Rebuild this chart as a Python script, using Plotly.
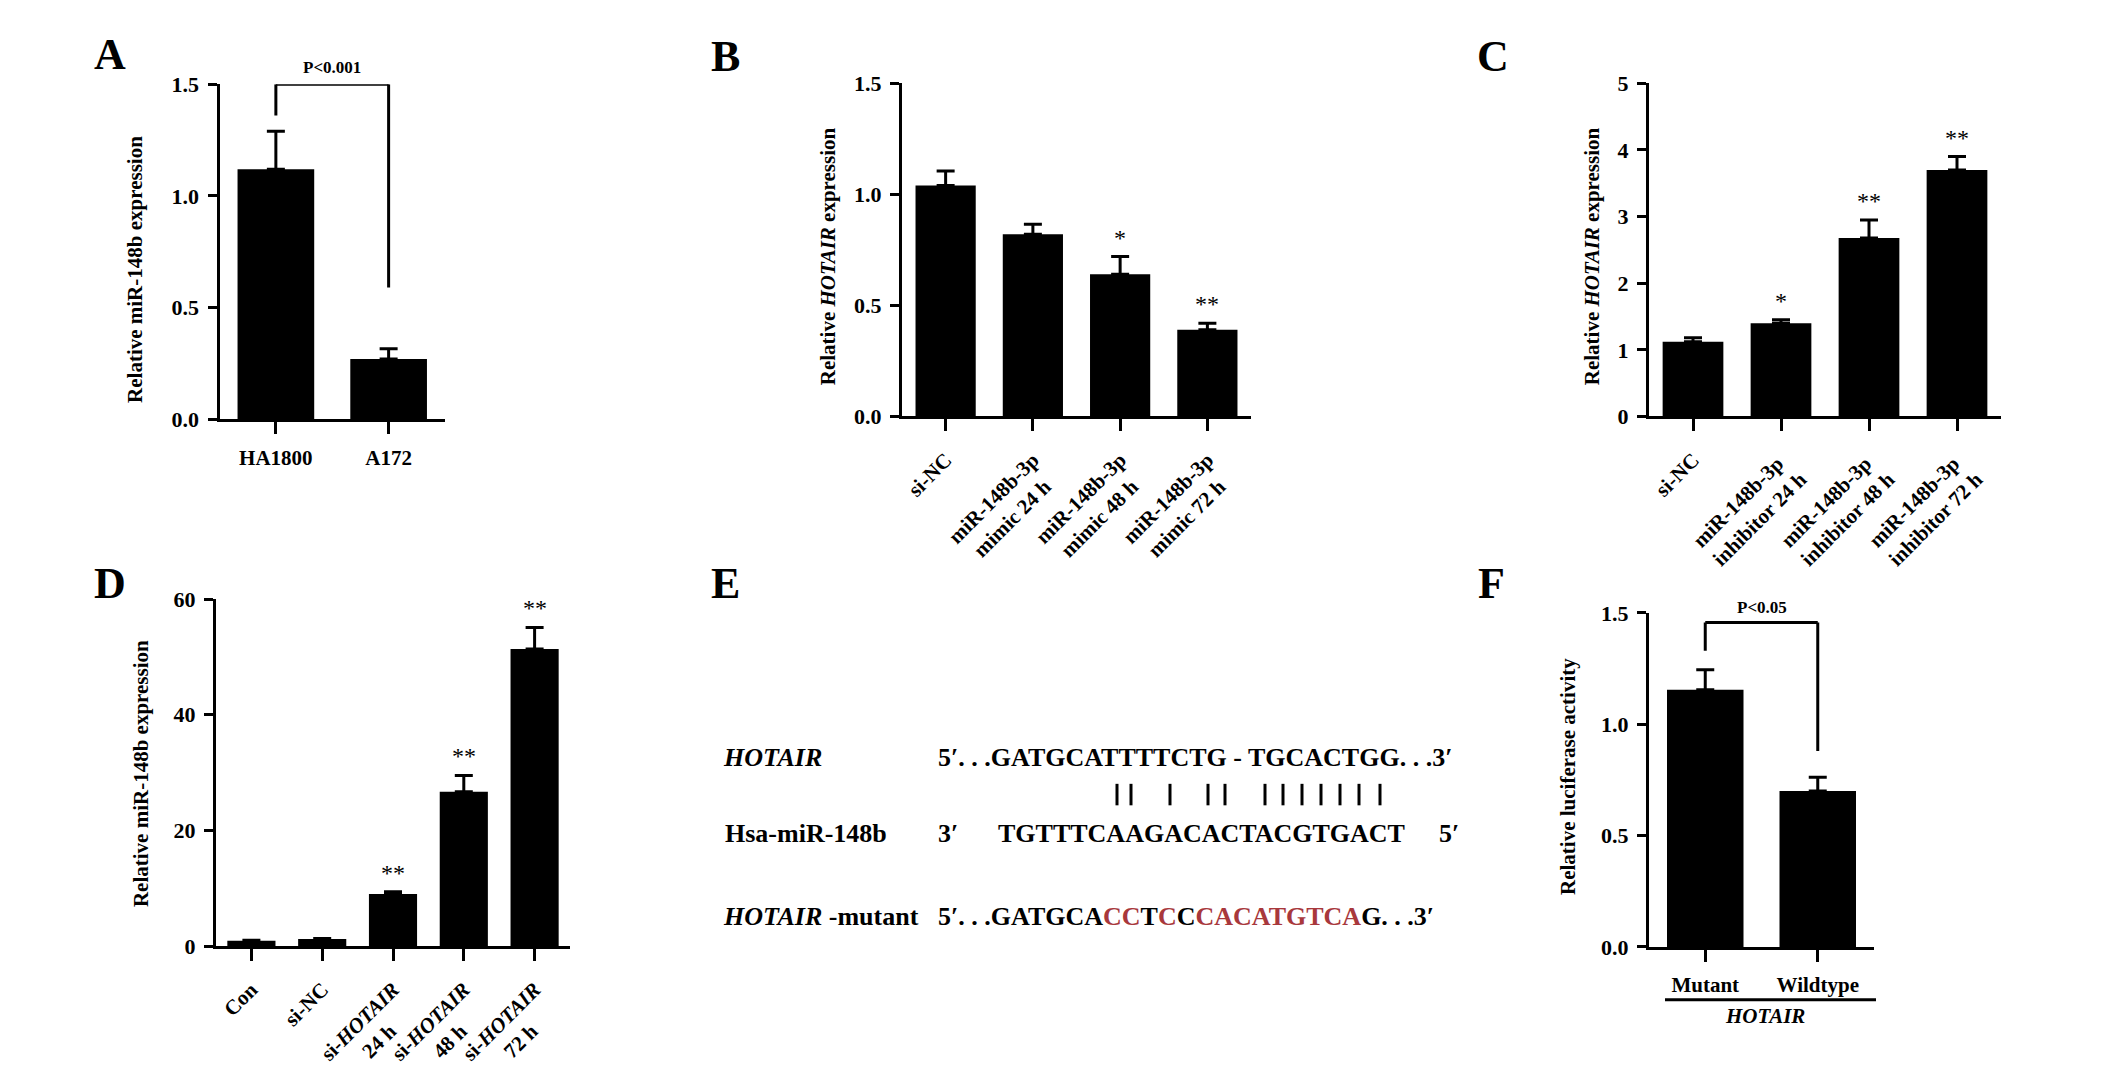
import plotly.graph_objects as go

W, H = 2126, 1087
FONT = "Liberation Serif"
NB = "\u00a0"

# ---------------- data ----------------
# Panel A
a_cats = ["HA1800", "A172"]
a_vals = [1.12, 0.27]
a_errs = [0.17, 0.046]
a_p = "P<0.001"
a_bracket = [1.36, 1.5, 0.59]   # left leg bottom, bracket top, right leg bottom

# Panel B
b_cats = ["si-NC", "miR-148b-3p<br>mimic 24 h", "miR-148b-3p<br>mimic 48 h", "miR-148b-3p<br>mimic 72 h"]
b_vals = [1.04, 0.82, 0.64, 0.39]
b_errs = [0.065, 0.045, 0.08, 0.03]
b_stars = ["", "", "*", "**"]

# Panel C
c_cats = ["si-NC", "miR-148b-3p<br>inhibitor 24 h", "miR-148b-3p<br>inhibitor 48 h", "miR-148b-3p<br>inhibitor 72 h"]
c_vals = [1.12, 1.40, 2.68, 3.70]
c_errs = [0.06, 0.05, 0.27, 0.20]
c_stars = ["", "*", "**", "**"]

# Panel D
d_cats = ["Con", "si-NC", "si-<i>HOTAIR</i><br>24 h", "si-<i>HOTAIR</i><br>48 h", "si-<i>HOTAIR</i><br>72 h"]
d_vals = [0.9, 1.2, 9.0, 26.7, 51.4]
d_errs = [0.1, 0.1, 0.4, 2.8, 3.7]
d_stars = ["", "", "**", "**", "**"]

# Panel F
f_cats = ["Mutant", "Wildtype"]
f_vals = [1.155, 0.70]
f_errs = [0.09, 0.062]
f_p = "P<0.05"
f_bracket = [1.33, 1.457, 0.88]

# Panel E (sequence diagram)
e_seq_hotair = "5′. . .GATGCATTTTCTG - TGCACTGG. . .3′"
e_seq_mir = "TGTTTCAAGACACTACGTGACT"
e_mut_parts = [("5′. . .GATGCA", "black"), ("CC", "red"), ("T", "black"), ("C", "red"),
               ("C", "black"), ("CACATGTCA", "red"), ("G. . .3′", "black")]
e_pair_x = [1117, 1131, 1170, 1208, 1225, 1265, 1283, 1302, 1321, 1340, 1359, 1380]

RED = "#a8383c"


def px(x):
    return x / W


def py(y):
    return 1 - y / H


def centered(label, pads):
    """pad short lines with no-break spaces so rotated lines look centred"""
    parts = label.split("<br>")
    if len(parts) == 2 and pads:
        if pads > 0:
            parts[1] = parts[1] + NB * pads
        else:
            parts[0] = parts[0] + NB * (-pads)
    return "<br>".join(parts)


b_text = [centered(c, 2) for c in b_cats]
c_text = [centered(c, -1) for c in c_cats]
d_text = [centered(c, 6) for c in d_cats]

fig = go.Figure()

panels = [
    # key, cats, ticktext, vals, errs, xdom(px), ydom(px top,bottom), yrange, dtick, fmt, bar width, angle
    ("", a_cats, a_cats, a_vals, a_errs, (219.5, 445), (74, 417), (0, 1.5), 0.5, ".1f", 0.68, 0),
    ("2", b_cats, b_text, b_vals, b_errs, (902, 1251), (73, 414), (0, 1.5), 0.5, ".1f", 0.69, -45),
    ("3", c_cats, c_text, c_vals, c_errs, (1649, 2001), (73, 414), (0, 5), 1, "d", 0.69, -45),
    ("4", d_cats, d_text, d_vals, d_errs, (216, 570), (601, 956), (0, 60), 20, "d", 0.68, -45),
    ("5", f_cats, f_cats, f_vals, f_errs, (1649, 1874), (615, 957), (0, 1.5), 0.5, ".1f", 0.68, 0),
]

layout = dict(
    width=W, height=H, margin=dict(l=0, r=0, t=0, b=0),
    paper_bgcolor="white", plot_bgcolor="white", showlegend=False,
    font=dict(family=FONT, color="black"),
)

for key, cats, ttext, vals, errs, xd, yd, yr, dt, fmt, bw, ang in panels:
    fig.add_trace(go.Bar(
        x=cats, y=vals, width=bw, marker=dict(color="black", line=dict(width=0)),
        error_y=dict(type="data", symmetric=False, array=errs, arrayminus=[0] * len(errs),
                     color="black", thickness=3, width=9),
        xaxis="x" + key, yaxis="y" + key,
    ))
    layout["xaxis" + key] = dict(
        domain=[px(xd[0]), px(xd[1])], anchor="y" + key,
        range=[-0.5, len(cats) - 0.5], type="category",
        tickmode="array", tickvals=cats, ticktext=ttext,
        showline=True, linecolor="black", linewidth=3,
        ticks="outside", ticklen=12, tickwidth=3, tickcolor="black",
        showgrid=False, zeroline=False, tickangle=ang,
        tickfont=dict(family=FONT, size=21, color="black", weight="bold"),
        ticklabelstandoff=5 if ang == 0 else 8,
    )
    layout["yaxis" + key] = dict(
        domain=[py(yd[1]), py(yd[0])], anchor="x" + key,
        range=list(yr), dtick=dt, tick0=0, tickformat=fmt,
        showline=True, linecolor="black", linewidth=3,
        ticks="outside", ticklen=9, tickwidth=3, tickcolor="black",
        showgrid=False, zeroline=False,
        tickfont=dict(family=FONT, size=22, color="black", weight="bold"),
        ticklabelstandoff=4,
    )

fig.update_layout(**layout)

ann = []
shapes = []

# panel letters
for letter, x, y in [("A", 110, 44), ("B", 725, 46), ("C", 1493, 46),
                     ("D", 110, 585), ("E", 725, 585), ("F", 1491, 585)]:
    ann.append(dict(text=letter, x=px(x), y=py(y), xref="paper", yref="paper",
                    showarrow=False, xanchor="center", yanchor="middle",
                    font=dict(family=FONT, size=44, color="black", weight="bold")))

# y-axis titles
for txt, x, y in [("Relative miR-148b expression", 135, 264),
                  ("Relative <i>HOTAIR</i> expression", 828, 250),
                  ("Relative <i>HOTAIR</i> expression", 1592, 250),
                  ("Relative miR-148b expression", 141, 780),
                  ("Relative luciferase activity", 1568, 783)]:
    ann.append(dict(text=txt, x=px(x), y=py(y), xref="paper", yref="paper",
                    showarrow=False, textangle=-90, xanchor="center", yanchor="middle",
                    font=dict(family=FONT, size=21, color="black", weight="bold")))

# significance stars
for key, cats, vals, errs, stars in [("2", b_cats, b_vals, b_errs, b_stars),
                                     ("3", c_cats, c_vals, c_errs, c_stars),
                                     ("4", d_cats, d_vals, d_errs, d_stars)]:
    for c, v, e, s in zip(cats, vals, errs, stars):
        if s:
            ann.append(dict(text=s, x=c, y=v + e, xref="x" + key, yref="y" + key,
                            showarrow=False, xanchor="center", yanchor="bottom", yshift=4,
                            font=dict(family=FONT, size=24, color="black")))

# brackets + P labels (A and F)
for key, br, ptxt, pshift in [("", a_bracket, a_p, 5), ("5", f_bracket, f_p, 3)]:
    xr, yr = "x" + key, "y" + key
    lw = dict(color="black", width=3)
    shapes.append(dict(type="line", xref=xr, yref=yr, x0=0, x1=0, y0=br[0], y1=br[1], line=lw))
    shapes.append(dict(type="line", xref=xr, yref=yr, x0=0, x1=1, y0=br[1], y1=br[1], line=lw))
    shapes.append(dict(type="line", xref=xr, yref=yr, x0=1, x1=1, y0=br[1], y1=br[2], line=lw))
    ann.append(dict(text=ptxt, x=0.5, y=br[1], xref=xr, yref=yr, showarrow=False,
                    xanchor="center", yanchor="bottom", yshift=pshift,
                    font=dict(family=FONT, size=17, color="black", weight="bold")))

# panel F group line and label
shapes.append(dict(type="line", xref="paper", yref="paper", x0=px(1665), x1=px(1876),
                   y0=py(1011), y1=py(1011), line=dict(color="black", width=3)))
ann.append(dict(text="<i>HOTAIR</i>", x=px(1765), y=py(1028), xref="paper", yref="paper",
                showarrow=False, xanchor="center", yanchor="middle",
                font=dict(family=FONT, size=21, color="black", weight="bold")))

# panel E text
EF = dict(family=FONT, size=26, color="black", weight="bold")


def etext(txt, x, y, font=EF, anchor="left"):
    ann.append(dict(text=txt, x=px(x), y=py(y), xref="paper", yref="paper",
                    showarrow=False, xanchor=anchor, yanchor="middle", font=font))


etext("<i>HOTAIR</i>", 721, 763)
etext(e_seq_hotair, 936, 763)
for bx in e_pair_x:
    shapes.append(dict(type="line", xref="paper", yref="paper", x0=px(bx), x1=px(bx),
                       y0=py(790), y1=py(812), line=dict(color="black", width=3)))
etext("Hsa-miR-148b", 723, 841)
etext("3′", 936, 841)
etext(e_seq_mir, 996, 841)
etext("5′", 1437, 841)
etext("<i>HOTAIR</i> -mutant", 721, 926)
mut = "".join(f"<span style='color:{RED if c == 'red' else 'black'}'>{t}</span>" for t, c in e_mut_parts)
etext(mut, 936, 926)

fig.update_layout(annotations=ann, shapes=shapes)
fig.write_html("out.html", config={"displayModeBar": False},
               post_script="document.body.style.margin='0px';document.body.style.overflow='hidden';")
